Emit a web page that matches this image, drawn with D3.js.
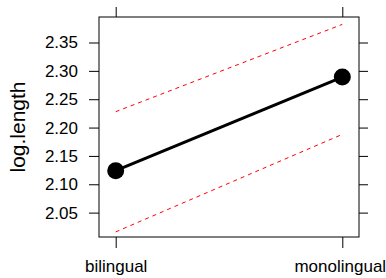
<!DOCTYPE html>
<html>
<head>
<meta charset="utf-8">
<script src="https://cdn.jsdelivr.net/npm/d3@7"></script>
<style>
  body { margin: 0; background: #fff; }
  text { font-family: "Liberation Sans", Arial, sans-serif; fill: #000; }
</style>
</head>
<body>
<script>
'use strict';

// effect estimates and confidence bounds
let groups = ["bilingual", "monolingual"];
let fitValues = [2.124, 2.289];
let upperValues = [2.228, 2.382];
let lowerValues = [2.016, 2.188];
let yTicks = [2.05, 2.10, 2.15, 2.20, 2.25, 2.30, 2.35];

(function() {
  let width = 386, height = 278;
  let left = 99, right = 359, top = 17, bottom = 237;

  let svg = d3.select('body').append('svg')
    .attr('width', width)
    .attr('height', height);

  let xScale = d3.scalePoint()
    .domain(groups)
    .range([115.7, 342.3]);

  let yScale = d3.scaleLinear()
    .domain([2.007, 2.395])
    .range([bottom, top]);

  // tick marks on all four sides
  let axisLeft = d3.axisLeft(yScale).tickValues(yTicks).tickFormat(d3.format('.2f')).tickSizeOuter(0).tickSize(10).tickPadding(11);
  let axisRight = d3.axisRight(yScale).tickValues(yTicks).tickFormat('').tickSizeOuter(0).tickSize(9);
  let axisBottom = d3.axisBottom(xScale).tickSizeOuter(0).tickSize(11).tickPadding(12);
  let axisTop = d3.axisTop(xScale).tickFormat('').tickSizeOuter(0).tickSize(10);

  function styleAxis(g) {
    g.select('.domain').remove();
    g.selectAll('line').attr('stroke', '#000').attr('stroke-width', 1);
    g.selectAll('text').style('font-size', '17px').attr('fill', '#000')
      .style('font-family', '"Liberation Sans", Arial, sans-serif');
  }

  svg.append('g').attr('transform', `translate(${left},0)`).call(axisLeft).call(styleAxis);
  svg.append('g').attr('transform', `translate(${right},0)`).call(axisRight).call(styleAxis);
  svg.append('g').attr('transform', `translate(0,${bottom})`).call(axisBottom).call(styleAxis)
    .selectAll('text')
    .attr('dx', d => d === 'monolingual' ? -2.5 : 0); // keep the last letter on the page
  svg.append('g').attr('transform', `translate(0,${top})`).call(axisTop).call(styleAxis);

  // panel frame
  svg.append('rect')
    .attr('x', left).attr('y', top)
    .attr('width', right - left).attr('height', bottom - top)
    .attr('fill', 'none').attr('stroke', '#000').attr('stroke-width', 1);

  // confidence bands
  let line = d3.line()
    .x((d, i) => xScale(groups[i]))
    .y(d => yScale(d));

  [upperValues, lowerValues].forEach(vals => {
    svg.append('path')
      .attr('d', line(vals))
      .attr('fill', 'none')
      .attr('stroke', '#ff0000')
      .attr('stroke-width', 1)
      .attr('stroke-dasharray', '4,4');
  });

  // fitted line and points
  svg.append('path')
    .attr('d', line(fitValues))
    .attr('fill', 'none')
    .attr('stroke', '#000')
    .attr('stroke-width', 3);

  svg.selectAll('.pt')
    .data(fitValues)
    .enter().append('circle')
    .attr('class', 'pt')
    .attr('cx', (d, i) => xScale(groups[i]))
    .attr('cy', d => yScale(d))
    .attr('r', 8.5)
    .attr('fill', '#000');

  // y label
  svg.append('text')
    .attr('transform', 'translate(25,127)rotate(-90)')
    .attr('text-anchor', 'middle')
    .style('font-size', '21px')
    .text('log.length');
})();
</script>
</body>
</html>
